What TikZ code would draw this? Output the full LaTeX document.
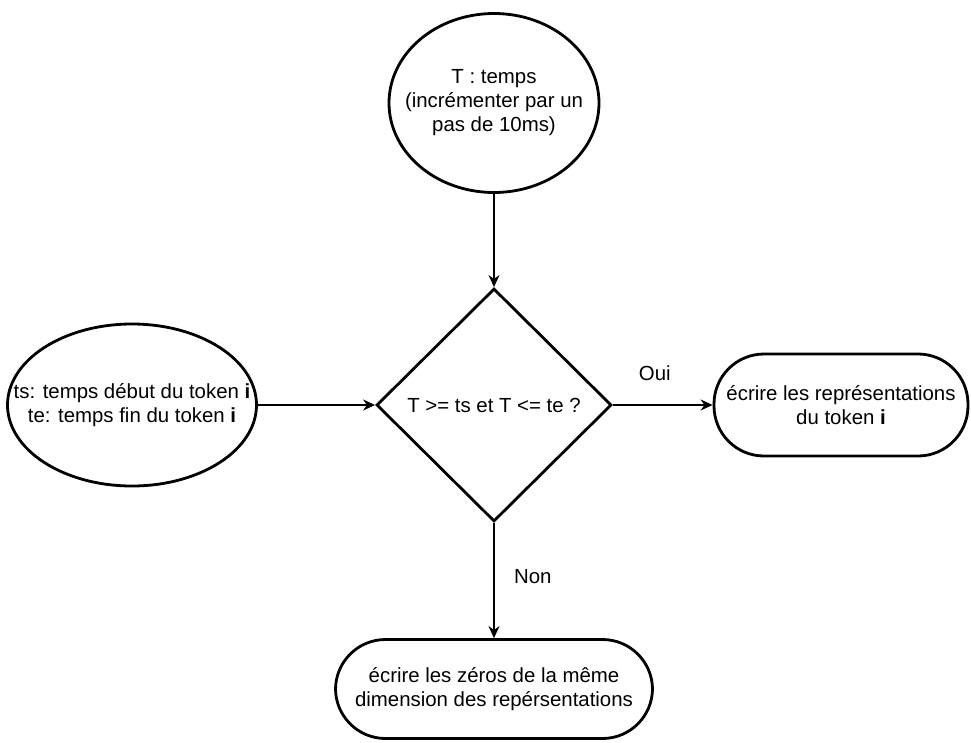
\documentclass[tikz,border=0pt]{standalone}
\usepackage{fontspec}
\setmainfont{Liberation Sans}
\usetikzlibrary{shapes.geometric,arrows.meta,positioning}

\begin{document}
\begin{tikzpicture}[x=1pt,y=-1pt,>={Stealth[length=12pt,width=11pt]},
	every node/.style={font=\fontsize{20.4}{24}\selectfont,align=center},
	bloc/.style={draw,line width=2.8pt,inner sep=0pt},
	fin/.style={bloc,rectangle,rounded corners=50pt},
	fleche/.style={->,line width=1.5pt}]
\useasboundingbox (0,0) rectangle (971,742);

\node[bloc,ellipse,minimum width=210,minimum height=179,
	label=center:{T : temps\\(incrémenter par un\\pas de 10ms)}] (temps) at (494,103) {};
\node[bloc,diamond,minimum width=235,minimum height=233] (test) at (494,405)
	{T >= ts et T <= te ?};
\node[bloc,ellipse,minimum width=249,minimum height=162,
	label=center:{ts: temps début du token \textbf{i}\\te: temps fin du token \textbf{i}}] (debut) at (132,405) {};
\node[fin,minimum width=254,minimum height=102] (ecrire) at (841,405)
	{écrire les représentations\\du token \textbf{i}};
\node[fin,minimum width=317,minimum height=99] (zeros) at (494,689)
	{écrire les zéros de la même\\dimension des repérsentations};

\draw[fleche] (temps) -- (test);
\draw[fleche] (debut) -- (test);
\draw[fleche] (test) -- node[pos=0.42,above=20pt]{Oui} (ecrire);
\draw[fleche] (test) -- node[pos=0.47,right=16pt]{Non} (zeros);
\end{tikzpicture}
\end{document}
